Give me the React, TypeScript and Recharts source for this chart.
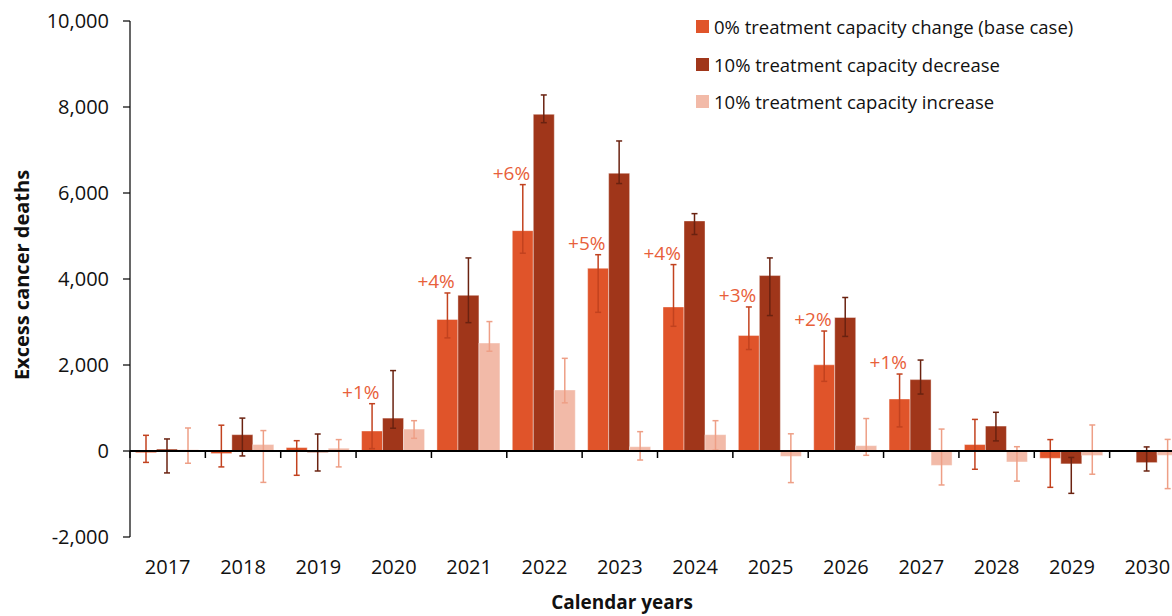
import React from "react";
import {
  BarChart,
  Bar,
  XAxis,
  YAxis,
  ErrorBar,
  ReferenceLine,
  ReferenceDot,
} from "recharts";

const years = [
  "2017", "2018", "2019", "2020", "2021", "2022", "2023",
  "2024", "2025", "2026", "2027", "2028", "2029", "2030",
];

// 0% treatment capacity change (base case)
const baseCase = [-40, -60, 80, 465, 3060, 5125, 4250, 3350, 2685, 2005, 1210, 150, -170, 0];
const baseLow = [-265, -370, -565, 55, 2630, 4600, 3225, 2900, 2360, 1620, 560, -425, -845, null];
const baseHigh = [365, 600, 240, 1100, 3675, 6195, 4565, 4335, 3350, 2790, 1790, 735, 265, null];

// 10% treatment capacity decrease
const decrease = [45, 380, -35, 765, 3620, 7830, 6460, 5350, 4080, 3105, 1660, 580, -300, -270];
const decLow = [-510, -115, -465, 530, 2985, 7635, 6220, 5035, 3150, 2665, 1325, 235, -985, -465];
const decHigh = [280, 765, 395, 1870, 4490, 8280, 7210, 5520, 4490, 3570, 2115, 900, -150, 95];

// 10% treatment capacity increase
const increase = [30, 150, 65, 510, 2510, 1420, 100, 380, -125, 125, -335, -255, -105, -100];
const incLow = [-285, -730, -370, 295, 2320, 1120, -210, 20, -735, -100, -790, -700, -540, -875];
const incHigh = [535, 475, 265, 705, 3010, 2155, 450, 705, 400, 755, 510, 100, 605, 270];

// percentage labels above the base case bars
const pctLabels = ["", "", "", "+1%", "+4%", "+6%", "+5%", "+4%", "+3%", "+2%", "+1%", "", "", ""];

const seriesNames = [
  "0% treatment capacity change (base case)",
  "10% treatment capacity decrease",
  "10% treatment capacity increase",
];

const yTicks = [-2000, 0, 2000, 4000, 6000, 8000, 10000];

const FONT = "'Open Sans', sans-serif";
const COLORS = ["#E0542A", "#A0361A", "#F2BAA8"];
const ERR_COLORS = ["#C2421F", "#6A2210", "#EE9F86"];

const Y_MIN = -2000;
const Y_MAX = 10000;
const CHART_W = 1200;
const CHART_H = 616;
const MARGIN = { top: 21, right: 15, bottom: 0, left: 0 };
const Y_AXIS_W = 130;
const X_AXIS_H = 79;
const PLOT_H = CHART_H - MARGIN.top - MARGIN.bottom - X_AXIS_H;
const ZERO_Y = MARGIN.top + (PLOT_H * Y_MAX) / (Y_MAX - Y_MIN);
const BAND = (CHART_W - MARGIN.right - MARGIN.left - Y_AXIS_W) / years.length;

const errDelta = (v: number, lo: number | null, hi: number | null) =>
  lo == null || hi == null ? null : [v - lo, hi - v];

const data = years.map((year, i) => ({
  year,
  base: baseCase[i],
  baseErr: errDelta(baseCase[i], baseLow[i], baseHigh[i]),
  decrease: decrease[i],
  decErr: errDelta(decrease[i], decLow[i], decHigh[i]),
  increase: increase[i],
  incErr: errDelta(increase[i], incLow[i], incHigh[i]),
}));

function XTick(props: any) {
  const { x, payload } = props;
  const bx = x - BAND / 2;
  return (
    <g>
      <line x1={bx} x2={bx} y1={ZERO_Y} y2={ZERO_Y + 7} stroke="#000" strokeWidth={1.5} />
      <text
        x={x}
        y={574}
        textAnchor="middle"
        fontFamily={FONT}
        fontSize={20}
        fill="#111"
      >
        {payload.value}
      </text>
    </g>
  );
}

function PctLabel(props: any) {
  const { viewBox, text } = props;
  const cx = viewBox.x + (viewBox.width || 0) / 2;
  const cy = viewBox.y + (viewBox.height || 0) / 2;
  return (
    <text
      x={cx - 33}
      y={cy - 5}
      textAnchor="middle"
      fontFamily={FONT}
      fontSize={19}
      fill="#E8603A"
    >
      {text}
    </text>
  );
}

export default function App() {
  return (
    <div
      style={{
        position: "fixed",
        left: 0,
        top: 0,
        width: 1172,
        height: 616,
        overflow: "hidden",
        background: "#fff",
      }}
    >
      <BarChart
        width={CHART_W}
        height={CHART_H}
        data={data}
        margin={MARGIN}
        barCategoryGap="7.3%"
        barGap={0}
      >
        <XAxis
          dataKey="year"
          axisLine={false}
          tickLine={false}
          height={X_AXIS_H}
          interval={0}
          tick={<XTick />}
          label={{
            content: () => (
              <text
                x={622}
                y={609}
                textAnchor="middle"
                fontFamily={FONT}
                fontSize={19}
                fontWeight="bold"
                fill="#111"
              >
                Calendar years
              </text>
            ),
          }}
        />
        <YAxis
          width={Y_AXIS_W}
          domain={[Y_MIN, Y_MAX]}
          ticks={yTicks}
          allowDataOverflow
          tickFormatter={(v: number) => v.toLocaleString("en-US")}
          axisLine={{ stroke: "#000", strokeWidth: 1.2 }}
          tickLine={{ stroke: "#000", strokeWidth: 1.2 }}
          tickSize={7}
          tickMargin={14}
          tick={{ fontFamily: FONT, fontSize: 20, fill: "#111" }}
          label={{
            content: () => (
              <text
                x={29}
                y={275}
                transform="rotate(-90 29 275)"
                textAnchor="middle"
                fontFamily={FONT}
                fontSize={20}
                fontWeight="bold"
                fill="#111"
              >
                Excess cancer deaths
              </text>
            ),
          }}
        />
        <Bar
          dataKey="base"
          name={seriesNames[0]}
          fill={COLORS[0]}
          stroke="#fff"
          strokeOpacity={0.5}
          strokeWidth={0.8}
          isAnimationActive={false}
        >
          <ErrorBar dataKey="baseErr" width={3} stroke={ERR_COLORS[0]} strokeWidth={1.5} />
        </Bar>
        <Bar
          dataKey="decrease"
          name={seriesNames[1]}
          fill={COLORS[1]}
          stroke="#fff"
          strokeOpacity={0.5}
          strokeWidth={0.8}
          isAnimationActive={false}
        >
          <ErrorBar dataKey="decErr" width={3} stroke={ERR_COLORS[1]} strokeWidth={1.5} />
        </Bar>
        <Bar
          dataKey="increase"
          name={seriesNames[2]}
          fill={COLORS[2]}
          stroke="#fff"
          strokeOpacity={0.5}
          strokeWidth={0.8}
          isAnimationActive={false}
        >
          <ErrorBar dataKey="incErr" width={3} stroke={ERR_COLORS[2]} strokeWidth={1.5} />
        </Bar>
        <ReferenceLine y={0} stroke="#000" strokeWidth={1.8} />
        {years.map((y, i) =>
          pctLabels[i] ? (
            <ReferenceDot
              key={y}
              x={y}
              y={baseHigh[i] as number}
              r={0}
              fill="none"
              stroke="none"
              label={<PctLabel text={pctLabels[i]} />}
            />
          ) : null
        )}
      </BarChart>
      <div
        style={{
          position: "absolute",
          left: 696,
          top: 8,
          fontFamily: FONT,
          fontSize: 18.5,
          color: "#111",
        }}
      >
        {seriesNames.map((name, i) => (
          <div key={name} style={{ display: "flex", alignItems: "center", height: 37.5 }}>
            <span
              style={{
                display: "inline-block",
                width: 13,
                height: 13,
                background: COLORS[i],
                marginRight: 5,
              }}
            />
            <span>{name}</span>
          </div>
        ))}
      </div>
    </div>
  );
}
